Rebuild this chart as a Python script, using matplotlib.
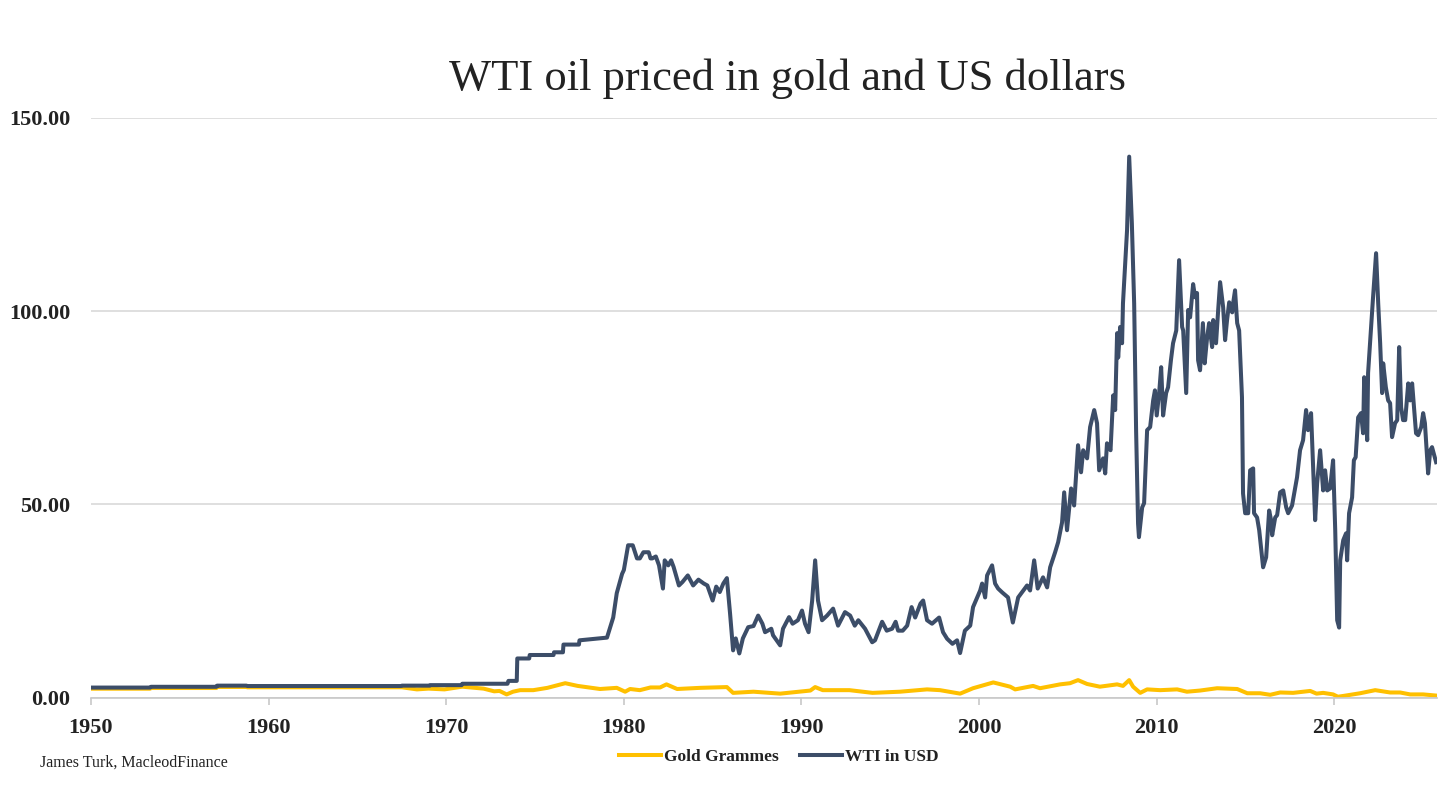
import matplotlib.pyplot as plt

# WTI crude, US dollars per barrel
wti_years = [1950.0, 1953.33, 1953.38, 1957.06, 1957.1, 1958.75, 1958.8, 1967.47, 1967.5,
             1969.07, 1969.1, 1970.87, 1970.9, 1973.45, 1973.5, 1973.97, 1974.0,
             1974.67, 1974.7, 1976.04, 1976.07, 1976.57, 1976.6, 1977.47, 1977.5, 1979.05,
             1979.4, 1979.6, 1979.9, 1980.0, 1980.24, 1980.5, 1980.74, 1980.9, 1981.1, 1981.4,
             1981.5, 1981.6, 1981.8, 1981.98, 1982.2, 1982.3, 1982.5, 1982.66, 1982.8, 1983.1,
             1983.3, 1983.6, 1983.9, 1984.2, 1984.5, 1984.7, 1985.0, 1985.2, 1985.4, 1985.6,
             1985.8, 1985.98, 1986.15, 1986.3, 1986.5, 1986.7, 1987.0, 1987.3, 1987.56, 1987.8,
             1987.95, 1988.3, 1988.4, 1988.8, 1988.96, 1989.3, 1989.5, 1989.8, 1990.03, 1990.2,
             1990.4, 1990.6, 1990.77, 1990.93, 1991.16, 1991.44, 1991.78, 1992.06, 1992.45,
             1992.74, 1993.0, 1993.2, 1993.58, 1993.98, 1994.14, 1994.54, 1994.8, 1995.1,
             1995.3, 1995.44, 1995.7, 1995.95, 1996.2, 1996.4, 1996.7, 1996.85, 1997.07,
             1997.35, 1997.75, 1997.97, 1998.2, 1998.5, 1998.76, 1998.93, 1999.2, 1999.5,
             1999.66, 2000.06, 2000.17, 2000.34, 2000.45, 2000.73, 2000.9, 2001.07, 2001.3,
             2001.63, 2001.9, 2002.2, 2002.7, 2002.87, 2003.1, 2003.3, 2003.6, 2003.83, 2004.0,
             2004.28, 2004.45, 2004.67, 2004.79, 2004.95, 2005.18, 2005.35, 2005.57, 2005.74,
             2005.86, 2006.08, 2006.25, 2006.48, 2006.64, 2006.76, 2006.98, 2007.1, 2007.2,
             2007.4, 2007.55, 2007.66, 2007.77, 2007.83, 2007.94, 2008.05, 2008.1, 2008.33,
             2008.45, 2008.6, 2008.73, 2008.84, 2008.95, 2009.0, 2009.18, 2009.29, 2009.46,
             2009.63, 2009.8, 2009.9, 2010.0, 2010.14, 2010.25, 2010.36, 2010.53, 2010.64,
             2010.8, 2010.92, 2011.1, 2011.26, 2011.43, 2011.49, 2011.66, 2011.77, 2011.88,
             2012.05, 2012.16, 2012.27, 2012.33, 2012.44, 2012.6, 2012.7, 2012.84, 2012.95,
             2013.12, 2013.18, 2013.34, 2013.46, 2013.57, 2013.74, 2013.85, 2013.96, 2014.08,
             2014.25, 2014.3, 2014.41, 2014.53, 2014.64, 2014.8, 2014.86, 2014.98, 2015.15,
             2015.26, 2015.43, 2015.48, 2015.65, 2015.77, 2015.99, 2016.16, 2016.33, 2016.44,
             2016.5, 2016.67, 2016.78, 2016.95, 2017.12, 2017.29, 2017.4, 2017.62, 2017.9,
             2018.07, 2018.24, 2018.41, 2018.52, 2018.69, 2018.92, 2019.03, 2019.2, 2019.37,
             2019.48, 2019.6, 2019.76, 2019.93, 2020.05, 2020.16, 2020.27, 2020.33, 2020.5,
             2020.66, 2020.72, 2020.83, 2021.0, 2021.1, 2021.2, 2021.34, 2021.5, 2021.62,
             2021.68, 2021.85, 2021.9, 2022.07, 2022.18, 2022.35, 2022.47, 2022.58, 2022.69,
             2022.75, 2022.9, 2023.03, 2023.14, 2023.25, 2023.42, 2023.54, 2023.65, 2023.76,
             2023.87, 2023.99, 2024.16, 2024.27, 2024.38, 2024.44, 2024.6, 2024.72, 2024.89,
             2025.0, 2025.1, 2025.28, 2025.4, 2025.5, 2025.73]
wti_usd = [2.57, 2.57, 2.77, 2.77, 3.07, 3.07, 2.97, 2.97, 3.07,
           3.07, 3.2, 3.2, 3.56, 3.56, 4.3, 4.3, 10.1,
           10.1, 11.0, 11.0, 11.7, 11.7, 13.7, 13.7, 14.8, 15.5,
           20.7, 27.0, 32.0, 33.0, 39.4, 39.4, 36.0, 36.0, 37.6, 37.6,
           36.0, 36.0, 36.5, 34.2, 28.2, 35.5, 34.2, 35.5, 33.8, 29.0,
           29.9, 31.6, 29.0, 30.5, 29.5, 29.0, 25.1, 28.7, 27.3, 29.5,
           30.9, 21.7, 12.2, 15.3, 11.4, 15.3, 18.2, 18.5, 21.2, 19.1,
           16.9, 17.8, 16.1, 13.5, 17.8, 20.8, 19.1, 20.0, 22.5, 19.1,
           16.9, 25.0, 35.5, 25.1, 20.0, 21.2, 23.0, 18.6, 22.1,
           21.2, 18.6, 20.0, 17.8, 14.3, 14.8, 19.6, 17.3, 17.8,
           19.6, 17.3, 17.3, 18.6, 23.4, 20.7, 24.3, 25.1, 20.0,
           19.1, 20.7, 16.9, 15.2, 13.9, 14.8, 11.5, 17.3, 18.6,
           23.4, 27.7, 29.5, 25.9, 31.6, 34.2, 29.5, 28.2, 27.2,
           25.9, 19.4, 25.9, 29.0, 27.7, 35.5, 28.2, 31.1, 28.5, 33.7,
           37.6, 40.2, 45.3, 53.1, 43.3, 54.1, 49.7, 65.3, 58.3,
           64.0, 61.9, 70.0, 74.4, 71.0, 58.8, 61.9, 58.0, 65.8,
           64.0, 78.2, 74.4, 94.3, 88.0, 95.9, 91.7, 102.0, 121.0,
           140.0, 122.8, 102.0, 69.0, 45.0, 41.5, 49.2, 50.3, 69.2,
           70.0, 76.9, 79.5, 73.0, 79.0, 85.5, 73.0, 78.8, 80.3,
           87.3, 91.7, 95.0, 113.2, 95.9, 95.0, 78.8, 100.3, 98.4,
           107.0, 103.6, 104.7, 87.3, 84.7, 96.9, 86.5, 93.3, 96.9,
           90.7, 97.7, 91.7, 100.3, 107.5, 101.0, 92.5, 97.7, 102.3,
           99.7, 102.0, 105.4, 96.9, 95.0, 77.7, 52.8, 47.7, 47.7,
           58.8, 59.3, 47.7, 46.6, 43.3, 33.7, 36.3, 48.4, 45.9,
           42.0, 46.6, 47.2, 53.1, 53.6, 49.2, 47.7, 49.7, 57.0,
           64.0, 66.6, 74.4, 69.2, 73.6, 45.9, 55.4, 64.0, 53.6,
           58.8, 53.6, 54.1, 61.4, 43.3, 20.0, 18.1, 35.5, 40.7,
           42.5, 35.5, 47.7, 51.8, 61.4, 62.2, 72.5, 73.6, 68.4,
           82.9, 66.6, 84.0, 95.9, 103.6, 115.0, 102.0, 91.7, 78.8,
           86.5, 80.3, 76.9, 76.2, 67.4, 71.0, 71.8, 90.7, 75.1,
           71.8, 71.8, 81.3, 76.9, 81.3, 77.7, 68.4, 67.9, 70.0,
           73.6, 71.0, 58.0, 64.0, 64.8, 60.9]

# WTI priced in grammes of gold
gold_years = [1950.0, 1953.33, 1953.38, 1957.06, 1957.1, 1958.75, 1958.8, 1967.5, 1968.35,
              1969.0, 1969.9, 1970.9, 1972.1, 1972.7, 1973.0, 1973.4, 1973.76, 1974.16,
              1974.9, 1975.7, 1976.7, 1977.4, 1978.66, 1979.6, 1980.07, 1980.35, 1980.9,
              1981.5, 1982.04, 1982.4, 1983.0, 1984.3, 1985.8, 1986.15, 1987.3, 1988.8,
              1990.5, 1990.77, 1991.2, 1992.7, 1994.0, 1995.55, 1997.07, 1997.8, 1998.93,
              1999.66, 2000.8, 2001.75, 2002.03, 2003.04, 2003.43, 2004.56, 2005.12, 2005.57,
              2006.08, 2006.8, 2007.77, 2008.1, 2008.45, 2008.67, 2009.07, 2009.46, 2010.2,
              2011.15, 2011.7, 2012.44, 2013.4, 2014.53, 2015.1, 2015.82, 2016.39, 2016.95,
              2017.68, 2018.64, 2019.0, 2019.37, 2019.93, 2020.2, 2020.5, 2021.45, 2022.3,
              2023.14, 2023.7, 2024.27, 2025.0, 2025.73]
gold_grammes = [2.28, 2.28, 2.46, 2.46, 2.73, 2.73, 2.64, 2.64, 2.1,
                2.3, 2.1, 2.8, 2.3, 1.6, 1.7, 0.8, 1.5, 1.9,
                1.9, 2.5, 3.7, 3.0, 2.2, 2.5, 1.5, 2.2, 1.9,
                2.6, 2.6, 3.4, 2.2, 2.5, 2.7, 1.2, 1.5, 1.0,
                1.8, 2.7, 1.9, 1.9, 1.2, 1.5, 2.1, 1.9, 1.0,
                2.4, 3.9, 2.8, 2.1, 3.0, 2.4, 3.4, 3.7, 4.5,
                3.5, 2.8, 3.4, 3.0, 4.5, 2.8, 1.2, 2.1, 1.9,
                2.1, 1.5, 1.8, 2.4, 2.2, 1.1, 1.1, 0.7, 1.3,
                1.2, 1.7, 1.0, 1.2, 0.8, 0.2, 0.4, 1.1, 1.9,
                1.3, 1.3, 0.8, 0.8, 0.5]

y_ticks = [0, 50, 100, 150]
x_ticks = [1950, 1960, 1970, 1980, 1990, 2000, 2010, 2020]

plt.rcParams['font.family'] = ['Liberation Serif', 'DejaVu Serif']

fig = plt.figure(figsize=(14.56, 7.9), dpi=100)
ax = fig.add_axes([91 / 1456, 1 - 697.5 / 790, (1437 - 91) / 1456, (697.5 - 118) / 790])

ax.plot(gold_years, gold_grammes, color='#FFC000', lw=2.9, label='Gold Grammes',
        solid_joinstyle='round')
ax.plot(wti_years, wti_usd, color='#3C4D68', lw=2.9, label='WTI in USD',
        solid_joinstyle='round')

ax.set_xlim(1950, 2025.78)
ax.set_ylim(0, 150)
ax.set_yticks(y_ticks)
ax.set_yticklabels(['%.2f' % v for v in y_ticks])
ax.set_xticks(x_ticks)
ax.set_xticklabels([str(v) for v in x_ticks])

ax.grid(axis='y', color='#D9D9D9', lw=1.2)
ax.set_axisbelow(True)
for side in ['top', 'right', 'left']:
    ax.spines[side].set_visible(False)
ax.spines['bottom'].set_color('#C8C8C8')
ax.spines['bottom'].set_linewidth(1.2)
ax.tick_params(axis='y', length=0, pad=15, labelsize=16, labelcolor='#222222')
ax.tick_params(axis='x', length=5, width=1.2, color='#C8C8C8', pad=10,
               labelsize=16, labelcolor='#222222')
for lab in ax.get_xticklabels() + ax.get_yticklabels():
    lab.set_fontweight('bold')

fig.text(0.541, 1 - 79 / 790, 'WTI oil priced in gold and US dollars', ha='center',
         va='center', fontsize=32, color='#222222')
fig.text(40 / 1456, 1 - 763 / 790, 'James Turk, MacleodFinance', ha='left', va='center',
         fontsize=11.5, color='#222222')

fig.legend(loc='center', bbox_to_anchor=(0.535, 1 - 757 / 790), ncol=2, frameon=False,
           prop={'size': 12.5, 'weight': 'bold'}, handlelength=2.4, handletextpad=0.2,
           columnspacing=1.2, labelcolor='#222222')

fig.savefig('out.png', dpi=100)
